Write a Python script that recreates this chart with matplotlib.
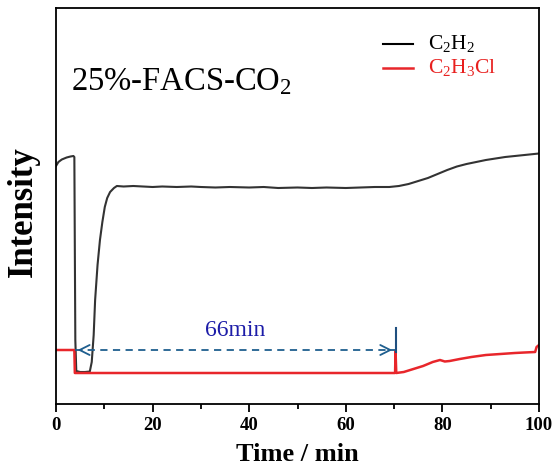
import matplotlib
matplotlib.use("Agg")
import matplotlib.pyplot as plt

plt.rcParams['font.family'] = ['Liberation Serif', 'DejaVu Serif']
plt.rcParams['mathtext.fontset'] = 'custom'
plt.rcParams['mathtext.rm'] = 'Liberation Serif'
plt.rcParams['mathtext.it'] = 'Liberation Serif:italic'
plt.rcParams['mathtext.bf'] = 'Liberation Serif:bold'

# C2H2 signal (arbitrary intensity units)
t_c2h2 = [0, 0.5, 1.2, 2.2, 3.0, 3.6, 3.8, 3.9, 4.0, 4.2, 5, 6, 7.0, 7.4, 7.8, 8.1,
          8.6, 9.1, 9.6, 10.1, 10.6, 11.2, 12, 12.6, 14, 16, 18, 20, 22, 25, 28,
          30, 33, 36, 40, 43, 46, 50, 53, 56, 60, 63, 66, 69, 71, 73, 75, 77, 79,
          81, 83, 85, 87, 89, 91, 93, 95, 97, 99, 100]
i_c2h2 = [238, 242, 244.5, 246.5, 247.5, 248, 247, 154, 64, 33, 32, 32, 32.5, 42, 69, 104,
          139, 164, 182, 197, 206, 212, 216, 218, 217.5, 218, 217.5, 217, 217.5, 217, 217.5,
          217, 216.5, 217, 216.5, 217, 216, 216.5, 216, 216.5, 216, 216.5, 217, 217, 218, 220, 223, 226, 230,
          234, 237.5, 240, 242, 244, 245.5, 247, 248, 249, 250, 250.5]

# C2H3Cl signal
t_c2h3cl = [0, 3.8, 3.9, 10, 30, 50, 70.2, 70.3, 70.45, 72, 74, 76, 78, 79.5, 80.5,
            81.5, 83.6, 86, 89, 92, 95, 97, 99.2, 99.5, 100]
i_c2h3cl = [54, 54, 31, 31, 31, 31, 31, 53, 31, 32, 35, 38, 42, 44, 42.5,
            43, 45, 47, 49, 50, 51, 51.5, 52, 57, 59]

breakthrough = [3.9, 70.2]

fig = plt.figure(figsize=(5.55, 4.75), dpi=100)
ax = fig.add_axes([56 / 555, 71 / 475, 483 / 555, 396 / 475])

ax.plot(t_c2h2, i_c2h2, color='#333333', lw=1.5)
ax.plot(t_c2h3cl, i_c2h3cl, color='#e8262b', lw=1.8)

# 66 min breakthrough arrow
arrow_col = '#1f5f8f'
ax.plot(breakthrough, [54, 54], color=arrow_col, lw=1.3, ls=(0, (4, 3)))
ax.annotate('', xy=(breakthrough[0], 54), xytext=(breakthrough[0] + 2, 54),
            arrowprops=dict(arrowstyle='->', color=arrow_col, lw=1.3, mutation_scale=18))
ax.annotate('', xy=(breakthrough[1], 54), xytext=(breakthrough[1] - 2, 54),
            arrowprops=dict(arrowstyle='->', color=arrow_col, lw=1.3, mutation_scale=18))
ax.plot([70.3, 70.3], [52, 76], color='#1f4f7f', lw=1.5)
ax.text(37, 73, '66min', color='#1c1ca8', fontsize=17, ha='center', va='center')

ax.text(3.2, 314, '25%-FACS-CO$_2$', fontsize=23.5, va='baseline', ha='left')

# legend drawn by hand
ax.plot([67.7, 73.9], [360, 360], color='black', lw=1.5)
ax.plot([67.7, 73.9], [336, 336], color='#e8262b', lw=1.8)
ax.text(77, 360, 'C$_2$H$_2$', fontsize=15.5, va='center', ha='left')
ax.text(77, 336, 'C$_2$H$_3$Cl', fontsize=15.5, va='center', ha='left', color='#e8201f')

ax.set_xlim(0, 100)
ax.set_ylim(0, 396)
ax.set_xticks(range(0, 101, 20))
ax.set_xticks(range(10, 100, 20), minor=True)
ax.set_yticks([])
ax.tick_params(axis='x', which='major', direction='out', length=6, width=1.3)
ax.tick_params(axis='x', which='minor', direction='out', length=3.5, width=1.3)
for lab in ax.get_xticklabels():
    lab.set_fontweight('bold')
    lab.set_fontsize(13.5)
for sp in ax.spines.values():
    sp.set_linewidth(1.3)

ax.set_xlabel('Time / min', fontsize=19, fontweight='bold', labelpad=6)
ax.set_ylabel('Intensity', fontsize=25, fontweight='bold')
ax.yaxis.set_label_coords(-0.033, 0.487)

fig.savefig('out.png', dpi=100)
